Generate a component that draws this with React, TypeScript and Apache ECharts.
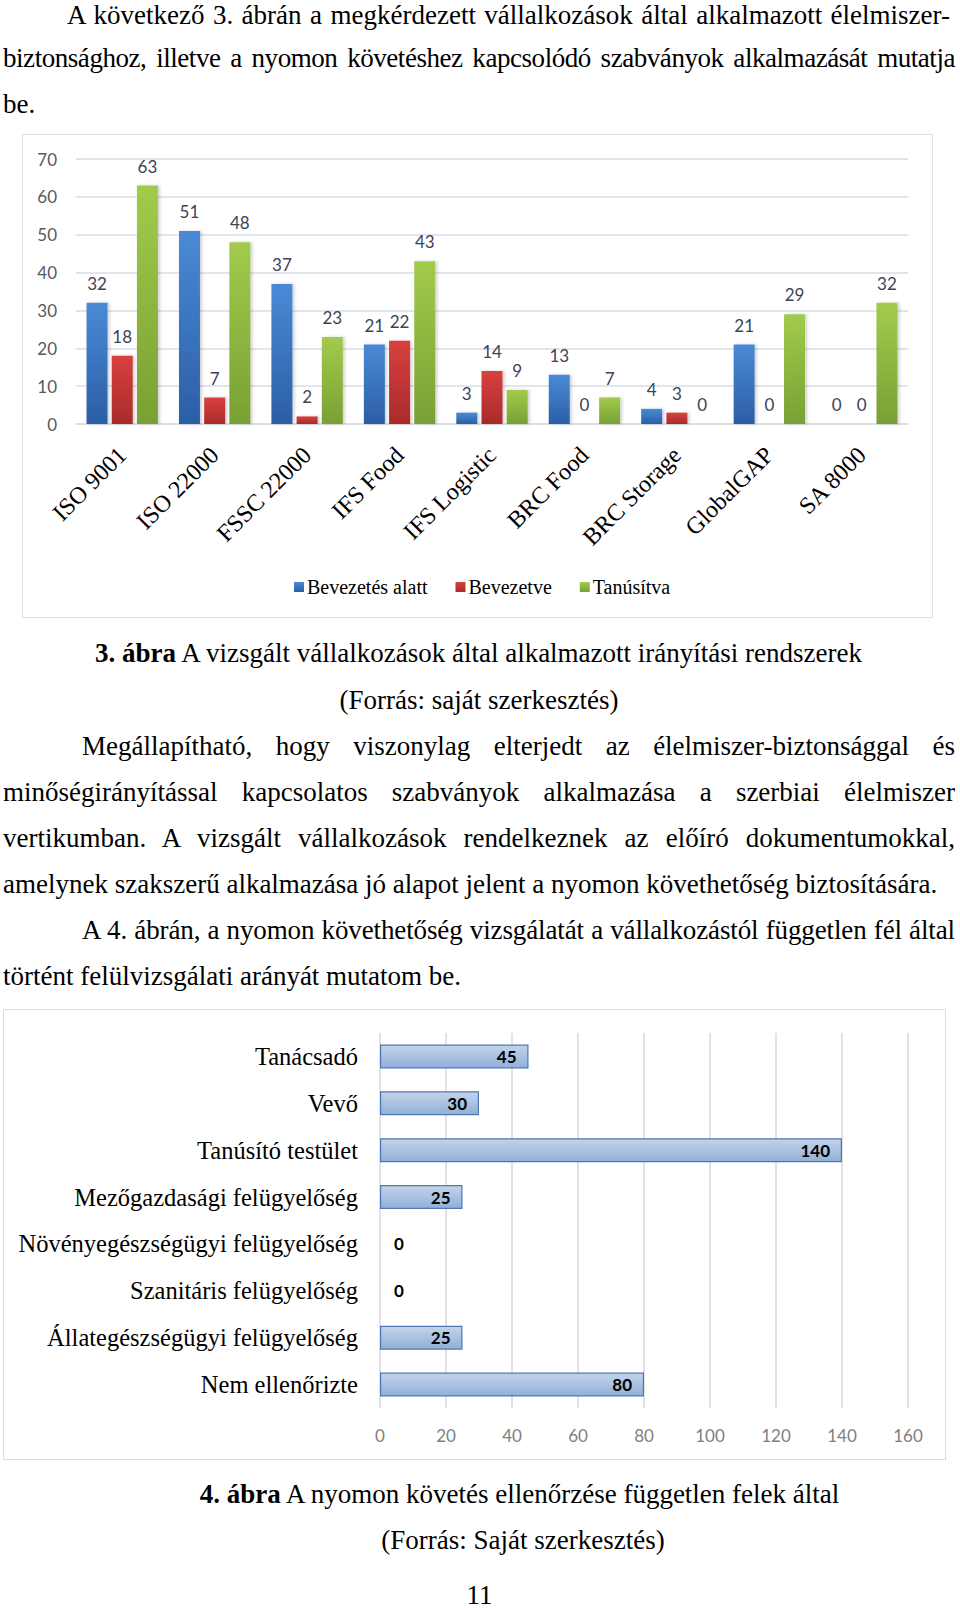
import React, { useEffect, useRef } from "react";
import * as echarts from "echarts";

// ---------- Figure 3 data ----------
const standards = [
  "ISO 9001",
  "ISO 22000",
  "FSSC 22000",
  "IFS Food",
  "IFS Logistic",
  "BRC Food",
  "BRC Storage",
  "GlobalGAP",
  "SA 8000",
];
const seriesNames = ["Bevezetés alatt", "Bevezetve", "Tanúsítva"];
const underIntroduction = [32, 51, 37, 21, 3, 13, 4, 21, 0];
const introduced = [18, 7, 2, 22, 14, 0, 3, 0, 0];
const certified = [63, 48, 23, 43, 9, 7, 0, 29, 32];

// ---------- Figure 4 data ----------
const checkers = [
  "Tanácsadó",
  "Vevő",
  "Tanúsító testület",
  "Mezőgazdasági felügyelőség",
  "Növényegészségügyi felügyelőség",
  "Szanitáris felügyelőség",
  "Állategészségügyi felügyelőség",
  "Nem ellenőrizte",
];
const checkValues = [45, 30, 140, 25, 0, 0, 25, 80];

const SERIF = '"Liberation Serif", "Times New Roman", serif';
const SANS = 'Lato, "Open Sans", sans-serif';

function grad(top: string, bottom: string) {
  return new echarts.graphic.LinearGradient(0, 0, 0, 1, [
    { offset: 0, color: top },
    { offset: 1, color: bottom },
  ]);
}

function Chart({ style, option }: { style: React.CSSProperties; option: any }) {
  const ref = useRef<HTMLDivElement>(null);
  useEffect(() => {
    if (!ref.current) return;
    const chart = echarts.init(ref.current, null, { renderer: "svg" });
    chart.setOption(option);
    return () => chart.dispose();
  }, []);
  return <div ref={ref} style={{ position: "absolute", ...style }} />;
}

function Line({
  cy,
  left,
  right,
  mode = "justify",
  spacing = 0,
  children,
}: {
  cy: number;
  left: number;
  right: number;
  mode?: "justify" | "center" | "left";
  spacing?: number;
  children: React.ReactNode;
}) {
  return (
    <div
      style={{
        position: "absolute",
        top: Math.max(0, cy - 15),
        left,
        width: right - left,
        height: 30,
        lineHeight: "30px",
        fontSize: 27,
        fontFamily: SERIF,
        color: "#000",
        whiteSpace: "nowrap",
        letterSpacing: spacing,
        textAlign: mode,
        textAlignLast: mode === "justify" ? "justify" : mode,
      } as React.CSSProperties}
    >
      {children}
    </div>
  );
}

const barLabel = {
  show: true,
  position: "top",
  distance: 11,
  fontFamily: SANS,
  fontSize: 17,
  color: "#3b4454",
};

const option1 = {
  animation: false,
  grid: {
    left: 54,
    top: 25,
    width: 832,
    height: 265,
    containLabel: false,
    outerBoundsMode: "none",
  },
  legend: {
    data: seriesNames,
    left: 267,
    top: 438,
    icon: "rect",
    itemWidth: 10,
    itemHeight: 10,
    itemGap: 28,
    textStyle: { fontFamily: SERIF, fontSize: 20, color: "#000", padding: [0, 0, 0, -2] },
  },
  xAxis: {
    type: "category",
    data: standards,
    axisLine: { show: true, lineStyle: { color: "#d9dde5", width: 1.5 } },
    axisTick: { show: false },
    axisLabel: {
      interval: 0,
      rotate: 45,
      margin: 27,
      fontFamily: SERIF,
      fontSize: 24,
      color: "#000",
    },
  },
  yAxis: {
    type: "value",
    min: 0,
    max: 70,
    interval: 10,
    axisLine: { show: false },
    axisTick: { show: false },
    axisLabel: { margin: 19, fontFamily: SANS, fontSize: 17, color: "#595959" },
    splitLine: { lineStyle: { color: "#d9dde5", width: 1.5 } },
  },
  series: [
    {
      name: seriesNames[0],
      type: "bar",
      data: underIntroduction,
      barWidth: 21,
      barGap: "20%",
      itemStyle: {
        color: grad("#4a8ad6", "#2b5ea6"),
        shadowColor: "rgba(0,0,0,0.18)",
        shadowBlur: 3,
        shadowOffsetX: 2,
      },
      label: barLabel,
    },
    {
      name: seriesNames[1],
      type: "bar",
      data: introduced,
      barWidth: 21,
      barGap: "20%",
      itemStyle: {
        color: grad("#d8403f", "#a82b2b"),
        shadowColor: "rgba(0,0,0,0.18)",
        shadowBlur: 3,
        shadowOffsetX: 2,
      },
      label: barLabel,
    },
    {
      name: seriesNames[2],
      type: "bar",
      data: certified,
      barWidth: 21,
      barGap: "20%",
      itemStyle: {
        color: grad("#a2cb4c", "#78a034"),
        shadowColor: "rgba(0,0,0,0.18)",
        shadowBlur: 3,
        shadowOffsetX: 2,
      },
      label: barLabel,
    },
  ],
};

const option2 = {
  animation: false,
  grid: {
    left: 377,
    top: 24,
    width: 528,
    height: 375,
    containLabel: false,
    outerBoundsMode: "none",
  },
  xAxis: {
    type: "value",
    min: 0,
    max: 160,
    interval: 20,
    axisLine: { show: false },
    axisTick: { show: false },
    axisLabel: { margin: 19, fontFamily: SANS, fontSize: 17, color: "#808080" },
    splitLine: { lineStyle: { color: "#d9d9d9", width: 1.5 } },
  },
  yAxis: {
    type: "category",
    inverse: true,
    data: checkers,
    axisLine: { show: false },
    axisTick: { show: false },
    axisLabel: { margin: 22, fontFamily: SERIF, fontSize: 24.5, color: "#000" },
  },
  series: [
    {
      type: "bar",
      barWidth: 24,
      data: checkValues.map((v) =>
        v === 0
          ? { value: v, itemStyle: { borderWidth: 0 }, label: { position: "right", distance: 14 } }
          : { value: v }
      ),
      itemStyle: {
        color: grad("#c3d4eb", "#92afd8"),
        borderColor: "#4f78b3",
        borderWidth: 1.2,
      },
      label: {
        show: true,
        position: "insideRight",
        distance: 12,
        fontFamily: SANS,
        fontWeight: "bold",
        fontSize: 17,
        color: "#000",
      },
    },
  ],
};

export default function App() {
  return (
    <div
      style={{
        position: "absolute",
        left: 0,
        top: 0,
        width: 960,
        height: 1610,
        overflow: "hidden",
        background: "#fff",
      }}
    >
      <Line cy={15} left={67} right={950}>
        A következő 3. ábrán a megkérdezett vállalkozások által alkalmazott élelmiszer-
      </Line>
      <Line cy={58} left={3} right={955} spacing={-0.45}>
        biztonsághoz, illetve a nyomon követéshez kapcsolódó szabványok alkalmazását mutatja
      </Line>
      <Line cy={104} left={3} right={300} mode="left">
        be.
      </Line>

      <div
        style={{
          position: "absolute",
          left: 22,
          top: 134,
          width: 911,
          height: 484,
          boxSizing: "border-box",
          border: "1.5px solid #dcdfe3",
        }}
      />
      <Chart style={{ left: 22, top: 134, width: 911, height: 484 }} option={option1} />

      <Line cy={653} left={0} right={957} mode="center">
        <b>3. ábra</b> A vizsgált vállalkozások által alkalmazott irányítási rendszerek
      </Line>
      <Line cy={700} left={0} right={958} mode="center">
        (Forrás: saját szerkesztés)
      </Line>

      <Line cy={746} left={82} right={955}>
        Megállapítható, hogy viszonylag elterjedt az élelmiszer-biztonsággal és
      </Line>
      <Line cy={792} left={3} right={955}>
        minőségirányítással kapcsolatos szabványok alkalmazása a szerbiai élelmiszer
      </Line>
      <Line cy={838} left={3} right={955}>
        vertikumban. A vizsgált vállalkozások rendelkeznek az előíró dokumentumokkal,
      </Line>
      <Line cy={884} left={3} right={945} mode="left">
        amelynek szakszerű alkalmazása jó alapot jelent a nyomon követhetőség biztosítására.
      </Line>
      <Line cy={930} left={82} right={955} spacing={-0.12}>
        A 4. ábrán, a nyomon követhetőség vizsgálatát a vállalkozástól független fél által
      </Line>
      <Line cy={976} left={3} right={600} mode="left">
        történt felülvizsgálati arányát mutatom be.
      </Line>

      <div
        style={{
          position: "absolute",
          left: 3,
          top: 1009,
          width: 943,
          height: 451,
          boxSizing: "border-box",
          border: "1.5px solid #dcdcdc",
        }}
      />
      <Chart style={{ left: 3, top: 1009, width: 943, height: 451 }} option={option2} />

      <Line cy={1494} left={0} right={1039} mode="center">
        <b>4. ábra</b> A nyomon követés ellenőrzése független felek által
      </Line>
      <Line cy={1540} left={0} right={1046} mode="center">
        (Forrás: Saját szerkesztés)
      </Line>
      <Line cy={1595} left={0} right={959} mode="center">
        11
      </Line>
    </div>
  );
}
